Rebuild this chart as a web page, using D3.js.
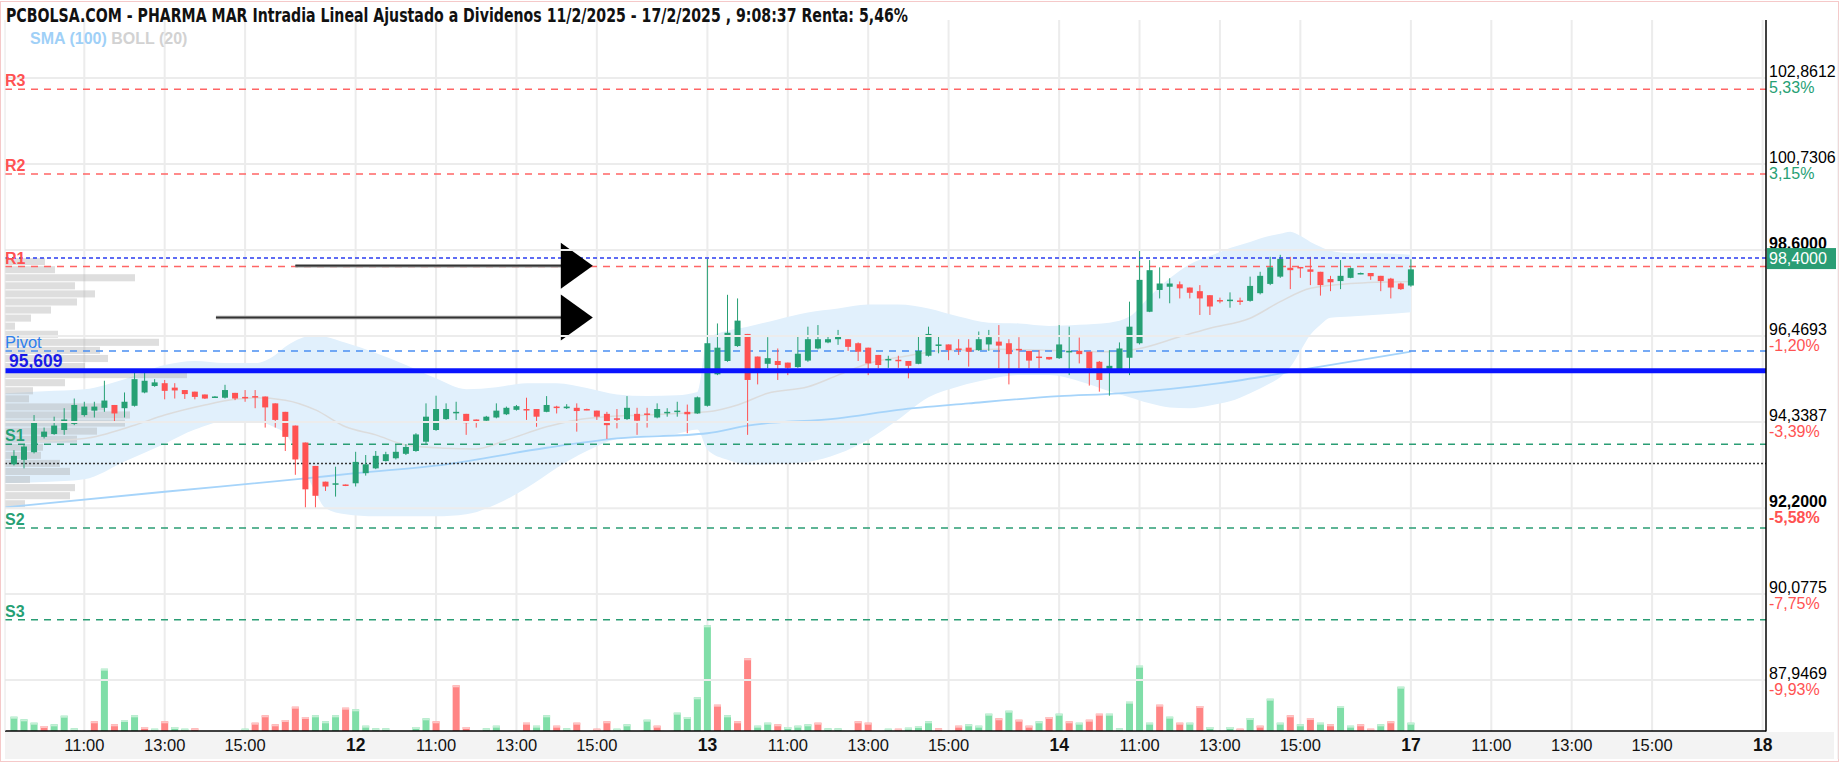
<!DOCTYPE html>
<html>
<head>
<meta charset="utf-8">
<script src="https://cdn.jsdelivr.net/npm/d3@7"></script>
<style>
  body { margin: 0; background: #fff; }
  svg { display: block; font-family: "Liberation Sans", Arial, sans-serif; }
</style>
</head>
<body>
<div id="chart"></div>
<script>
// ---- data (15 min bars, slot = quarter hours since 9:00 of 11/2) ----
var slotsPerDay = 35;
var firstSlot = 1;
var dayLabels = ["11", "12", "13", "14", "17", "18"];
var hourLabels = ["11:00", "13:00", "15:00"];

var opens = [93.29,93.40,93.59,93.97,94.04,94.14,94.29,94.51,94.62,94.69,
  94.76,94.68,94.74,95.07,95.23,95.30,95.19,95.13,95.09,95.02,
  94.96,94.94,95.06,94.96,94.98,94.97,94.80,94.59,94.25,93.83,
  93.25,92.86,92.81,92.79,92.82,93.07,93.19,93.37,93.44,93.55,
  93.62,93.85,94.14,94.41,94.57,94.54,94.40,94.37,94.45,94.53,
  94.64,94.66,94.66,94.59,94.72,94.68,94.69,94.66,94.62,94.54,
  94.43,94.41,94.54,94.55,94.45,94.57,94.60,94.59,94.55,94.74,
  95.52,95.85,96.22,96.52,95.96,95.78,95.85,95.81,95.70,95.86,
  96.16,96.31,96.39,96.39,96.29,96.18,96.00,95.88,95.88,95.85,
  95.78,95.98,96.25,96.26,96.16,96.18,96.12,96.26,96.33,96.29,
  96.15,96.10,95.96,95.95,95.92,96.08,96.10,96.08,95.83,95.59,
  95.59,95.93,96.29,97.07,97.61,97.69,97.75,97.67,97.58,97.48,
  97.36,97.35,97.35,97.34,97.53,97.76,97.94,98.16,98.18,98.12,
  98.06,97.88,97.83,97.91,98.01,98.03,97.96,97.89,97.77,97.72];
var highs = [93.64,93.79,94.51,94.20,94.47,94.68,94.92,94.84,94.84,95.36,
  94.76,95.07,95.59,95.59,95.40,95.38,95.30,95.13,95.09,95.02,
  94.98,95.26,95.06,95.13,95.13,94.97,94.80,94.59,94.25,93.83,
  93.25,92.86,93.23,92.79,93.60,93.52,93.62,93.60,93.79,93.79,
  94.06,94.80,94.99,94.80,94.84,94.54,94.40,94.49,94.80,94.72,
  94.76,94.94,94.66,94.98,94.74,94.78,94.80,94.67,94.62,94.59,
  94.66,94.98,94.69,94.69,94.80,94.68,94.84,94.77,94.97,98.38,
  96.78,97.49,97.40,96.52,95.96,96.44,96.16,95.81,96.49,96.70,
  96.74,96.45,96.62,96.39,96.31,96.18,96.00,95.98,95.98,95.85,
  96.45,96.70,96.49,96.26,96.39,96.39,96.58,96.62,96.74,96.39,
  96.44,96.10,96.12,95.95,96.74,96.70,96.43,96.08,95.85,96.12,
  96.31,97.32,98.60,98.35,98.17,97.90,97.82,97.67,97.73,97.48,
  97.42,97.55,97.42,97.94,98.06,98.43,98.48,98.43,98.18,98.43,
  98.06,97.96,98.35,98.17,98.04,98.03,97.96,97.91,97.79,98.37];
var lows = [93.26,93.19,93.56,93.93,94.02,94.02,94.26,94.47,94.45,94.59,
  94.35,94.45,94.72,95.05,95.21,94.90,94.92,94.91,94.90,94.91,
  94.95,94.92,94.88,94.84,94.68,94.20,94.20,93.62,93.03,92.20,
  92.20,92.63,92.49,92.75,92.74,93.01,93.17,93.36,93.41,93.52,
  93.60,93.77,94.12,94.39,94.39,94.02,94.20,94.35,94.43,94.51,
  94.62,94.39,94.22,94.58,94.55,94.66,94.10,94.63,94.39,93.92,
  94.18,94.39,94.02,94.20,94.43,94.47,94.47,94.06,94.54,94.72,
  95.50,95.83,96.20,94.02,95.27,95.67,95.38,95.50,95.68,95.83,
  96.14,96.29,96.25,96.10,95.85,95.50,95.67,95.68,95.68,95.42,
  95.77,95.96,96.04,95.87,96.00,95.71,96.10,96.10,95.67,95.27,
  95.67,95.67,95.67,95.88,95.90,95.50,95.79,95.24,95.09,94.99,
  95.57,95.50,96.26,97.06,97.40,97.28,97.40,97.40,96.99,96.99,
  97.28,97.17,97.24,97.32,97.50,97.73,97.91,97.63,97.91,97.73,
  97.47,97.58,97.63,97.90,98.00,97.86,97.58,97.40,97.61,97.69];
var closes = [93.50,93.73,94.32,94.10,94.25,94.40,94.76,94.72,94.72,94.87,
  94.55,94.84,95.40,95.36,95.32,95.11,95.12,95.03,94.96,94.92,
  94.97,95.13,94.92,94.95,94.95,94.70,94.39,93.97,93.41,92.67,
  92.51,92.74,92.82,92.76,93.35,93.29,93.50,93.54,93.60,93.72,
  94.03,94.47,94.66,94.66,94.59,94.31,94.33,94.47,94.62,94.69,
  94.73,94.64,94.47,94.76,94.70,94.72,94.61,94.64,94.47,94.26,
  94.41,94.69,94.37,94.54,94.66,94.59,94.62,94.53,94.95,96.29,
  96.18,96.55,96.85,95.38,95.63,95.92,95.75,95.68,96.03,96.39,
  96.39,96.39,96.45,96.20,96.08,95.79,95.75,95.90,95.87,95.73,
  96.10,96.52,96.26,96.12,96.15,96.08,96.39,96.44,96.23,96.02,
  96.13,95.86,95.94,95.89,96.26,96.10,96.02,95.67,95.38,95.73,
  96.16,96.70,97.86,98.10,97.77,97.77,97.65,97.54,97.40,97.20,
  97.35,97.37,97.34,97.71,97.96,98.17,98.38,98.10,98.16,98.06,
  97.73,97.80,97.96,98.15,98.03,97.95,97.83,97.67,97.63,98.12];

// volume per bar, thousands of shares, and whether the bar is drawn green (1) or red (0)
var volumes = [14.3,11.7,8.3,5,6.7,15.3,2.7,0,9.7,62.3,
  6.7,11,15.7,4,2.3,9.7,4,2.3,2.7,0,
  0,0,0,2.3,8.3,15.7,6.7,11,24.3,14,
  15.7,9.7,15.7,23.3,21.7,5.3,2.7,2.7,0,0,
  4,12.7,9.7,0,45.7,4,0,2.7,5.3,0,
  0,8.3,5.3,15.7,5.3,2.7,8.3,0,2.3,9.7,
  2.3,6.7,0,11.3,5.3,0,18.3,14,33.7,105.7,
  26.3,15.7,9.7,72.7,5.3,8.3,6.7,4,5.3,6.7,
  8.3,2.7,2.7,0,9.7,8.3,0,2.3,2.3,3.3,
  5,9.7,2.7,0,5.3,6.7,5.3,17.3,12.7,20.3,
  11.3,5.3,9.7,14,17.3,9.7,8.3,11.3,17.3,17.3,
  2.7,29.3,65.3,8.3,26.3,14.3,8.3,8.3,25,4,
  0,4,2.3,13,5.3,32.3,8.3,15.7,6.7,13,
  8.3,6.7,25,5.3,6.7,2.3,6.7,9.7,44.3,8.3];
var volUp = [1,1,1,0,1,1,1,1,0,1, 0,1,1,0,1,0,1,1,0,1, 1,1,1,1,0,0,0,0,0,0,
  1,1,1,0,1,1,1,1,1,1, 1,1,0,1,0,0,1,1,1,1, 1,0,1,1,0,1,0,1,0,0,
  1,1,1,1,0,1,1,1,1,1, 0,1,0,0,1,1,0,1,1,1, 0,1,1,1,0,0,1,1,0,1,
  1,1,0,1,0,1,1,1,0,1, 0,0,1,0,1,0,1,0,0,1, 1,1,1,1,0,1,0,1,0,1,
  1,1,0,1,0,1,1,0,1,0, 1,0,1,1,0,0,1,0,1,1];

// Bollinger (20) bands and SMA lines, sampled along the slots
var bollSlot = [0,4,8,12,16,19,22,25,27,28,29,30,31,32,34,37,40,43,46,49,52,55,58,61,64,67,69,70,72,74,
  77,80,83,86,89,92,95,98,101,104,107,110,112,114,116,118,120,122,124,126,127,128,129,130,131,132,134,137,140];
var bollUp = [95.05,95.10,95.15,95.40,95.75,95.85,95.80,95.80,96.00,96.20,96.35,96.45,96.48,96.45,96.30,96.05,95.75,95.42,95.15,95.20,
  95.30,95.30,95.18,95.02,94.98,95.00,95.08,96.40,96.60,96.70,96.88,97.05,97.15,97.25,97.25,97.15,96.95,96.80,96.78,96.72,
  96.75,96.80,96.95,97.45,97.90,98.25,98.45,98.65,98.80,98.95,99.00,99.05,98.95,98.80,98.68,98.58,98.52,98.52,98.48];
var bollLow = [92.82,92.85,92.92,93.36,93.80,94.15,94.35,94.35,94.20,94.05,93.65,93.10,92.60,92.20,92.05,92.00,92.00,92.00,92.05,92.30,
  92.70,93.20,93.62,93.92,94.00,94.05,94.15,93.65,93.40,93.28,93.30,93.35,93.55,93.90,94.40,94.95,95.22,95.40,95.50,95.50,
  95.35,95.10,94.95,94.80,94.70,94.68,94.75,94.85,95.05,95.30,95.45,95.70,96.10,96.50,96.75,96.92,96.95,97.00,97.06];
var midSlot = [2,8,13,16,20,23,25,28,31,34,37,40,44,47,50,54,57,60,64,67,70,73,76,80,83,86,90,93,96,99,103,106,110,113,117,120,124,127,130,134,140];
var midVal = [93.85,93.93,94.26,94.51,94.76,94.90,94.94,94.88,94.64,94.22,94.02,93.77,93.69,93.67,93.89,94.22,94.39,94.47,94.51,94.55,
  94.59,94.76,95.05,95.21,95.50,95.79,95.98,96.10,96.12,96.14,96.12,96.10,96.08,96.16,96.45,96.66,96.91,97.32,97.65,97.77,97.82];
var smaSlot = [0,16,30,35,44,54,61,70,74,83,89,96,105,111,121,131,140];
var smaVal = [92.22,92.61,92.94,93.07,93.29,93.70,93.93,94.06,94.25,94.43,94.64,94.80,94.98,95.05,95.30,95.71,96.08];

// volume profile by price (bin lower edge, 0.20 wide)
var profPrice = [98.2,98.0,97.8,97.6,97.4,97.2,97.0,96.8,96.6,96.4,96.2,96.0,95.8,95.6,95.4,95.2,95.0,94.8,94.6,94.4,94.2,94.0,93.8,93.6,93.4,93.2,93.0,92.8,92.6,92.4,92.2];
var profVol = [40,50,130,70,90,72,46,26,10,53,154,95,103,80,182,60,28,24,100,125,120,92,72,38,36,55,65,25,70,65,20];

// pivot levels and marks
var levelNames = ["R3", "R2", "R1", "Pivot", "S1", "S2", "S3"];
var levelVals = [102.58, 100.48, 98.19, 96.10, 93.79, 91.71, 89.44];
var lastPrice = 98.40;
var buyPrice = 93.31;
var markLevel = 95.609;
var arrowPrice = [98.21, 96.93];
var arrowFrom = [29, 21.1];
var arrowTo = 58.6;

// axis ticks
var yTicks = [102.8612, 100.7306, 98.6, 96.4693, 94.3387, 92.2, 90.0775, 87.9469];
var yPct = ["5,33%", "3,15%", "", "-1,20%", "-3,39%", "-5,58%", "-7,75%", "-9,93%"];
var boldTicks = [98.6, 92.2];

// ---- drawing ----
var W = 1844, H = 764;
var pL = 5, pR = 1766, pT = 20, pB = 731;
var green = "#26a074", red = "#ff5252";

var svg = d3.select("#chart").append("svg").attr("width", W).attr("height", H);

var x = d3.scaleLinear().domain([0, 175]).range([3.9, 1762.65]);
var y = d3.scaleLinear().domain([92.2, 98.6]).range([508.3, 250]);
var yVol = d3.scaleLinear().domain([0, 100]).range([pB, pB - 100]);
var xProf = d3.scaleLinear().domain([0, 200]).range([0, 200]);

svg.append("rect").attr("width", W).attr("height", H).attr("fill", "#fff");
svg.append("rect").attr("x", pL).attr("y", pB + 1).attr("width", 1834 - pL).attr("height", 27).attr("fill", "#f3f3f3");

svg.append("defs").append("clipPath").attr("id", "plotclip")
  .append("rect").attr("x", pL).attr("y", pT).attr("width", pR - pL).attr("height", pB - pT);
var plot = svg.append("g").attr("clip-path", "url(#plotclip)");

// x ticks: day start bold, hours in between
var xTicks = [];
dayLabels.forEach(function(d, i) {
  if (i > 0) xTicks.push({s: i * slotsPerDay, t: d, bold: true});
  if (i < dayLabels.length - 1) {
    hourLabels.forEach(function(h) {
      xTicks.push({s: i * slotsPerDay + (parseInt(h) - 9) * 4, t: h, bold: false});
    });
  }
});

// grid
plot.selectAll(".vg").data(xTicks).enter().append("line")
  .attr("x1", function(d) { return x(d.s); }).attr("x2", function(d) { return x(d.s); })
  .attr("y1", pT).attr("y2", pB)
  .attr("stroke", "#ececec").attr("stroke-width", 2);
svg.selectAll(".hg").data(yTicks).enter().append("line")
  .attr("x1", pL).attr("x2", pR)
  .attr("y1", function(d) { return y(d); }).attr("y2", function(d) { return y(d); })
  .attr("stroke", "#ececec").attr("stroke-width", 2);

// bollinger band
var band = bollSlot.map(function(s, i) { return {s: s, u: bollUp[i], l: bollLow[i]}; });
plot.append("path").datum(band)
  .attr("fill", "#e1f0fc")
  .attr("d", d3.area().curve(d3.curveMonotoneX)
    .x(function(d) { return x(d.s); })
    .y0(function(d) { return y(d.l); })
    .y1(function(d) { return y(d.u); }));

// volume profile
plot.selectAll(".prof").data(profPrice).enter().append("rect")
  .attr("x", pL)
  .attr("y", function(d) { return y(d + 0.2); })
  .attr("height", function(d) { return y(d) - y(d + 0.2) - 1; })
  .attr("width", function(d, i) { return xProf(profVol[i]); })
  .attr("fill", "#b0b0b0").attr("opacity", 0.42);

// SMA 20 (middle band) and SMA 100
var line = d3.line().curve(d3.curveMonotoneX)
  .x(function(d) { return x(d[0]); }).y(function(d) { return y(d[1]); });
plot.append("path").datum(midSlot.map(function(s, i) { return [s, midVal[i]]; }))
  .attr("fill", "none").attr("stroke", "#dcdcdc").attr("stroke-width", 1.5).attr("d", line);
plot.append("path").datum(smaSlot.map(function(s, i) { return [s, smaVal[i]]; }))
  .attr("fill", "none").attr("stroke", "#a6d4fa").attr("stroke-width", 1.8).attr("d", line);

// volume bars
var vols = volumes.map(function(v, i) { return {s: firstSlot + i, v: v, up: volUp[i]}; })
  .filter(function(d) { return d.v > 0; });
plot.selectAll(".vol").data(vols).enter().append("rect")
  .attr("x", function(d) { return x(d.s) - 3.5; })
  .attr("width", 7)
  .attr("y", function(d) { return yVol(d.v); })
  .attr("height", function(d) { return pB - yVol(d.v); })
  .attr("fill", function(d) { return d.up ? "#80dea8" : "#ff8585"; });
plot.selectAll(".volcap").data(vols).enter().append("rect")
  .attr("x", function(d) { return x(d.s) - 3.5; })
  .attr("width", 7)
  .attr("y", function(d) { return yVol(d.v); })
  .attr("height", function(d) { return Math.min(2, pB - yVol(d.v)); })
  .attr("fill", function(d) { return d.up ? "#c4f0d6" : "#ffc4c4"; });

// level lines
var levels = levelNames.map(function(n, i) { return {n: n, v: levelVals[i]}; });
function levelColor(n) { return n[0] === "R" ? "#ff6565" : n[0] === "S" ? "#2a9d74" : "#4a8ef2"; }
plot.selectAll(".lvl").data(levels).enter().append("line")
  .attr("x1", pL).attr("x2", pR)
  .attr("y1", function(d) { return y(d.v); }).attr("y2", function(d) { return y(d.v); })
  .attr("stroke", function(d) { return levelColor(d.n); })
  .attr("stroke-width", 1.5).attr("stroke-dasharray", "7,6");
plot.append("line").attr("x1", pL).attr("x2", pR)
  .attr("y1", y(buyPrice)).attr("y2", y(buyPrice))
  .attr("stroke", "#333").attr("stroke-width", 1.5).attr("stroke-dasharray", "2,2");

// candles
var candles = opens.map(function(o, i) {
  return {s: firstSlot + i, o: o, h: highs[i], l: lows[i], c: closes[i]};
});
var cg = plot.selectAll(".candle").data(candles).enter().append("g");
cg.append("line")
  .attr("x1", function(d) { return x(d.s); }).attr("x2", function(d) { return x(d.s); })
  .attr("y1", function(d) { return y(d.h); }).attr("y2", function(d) { return y(d.l); })
  .attr("stroke", function(d) { return d.c >= d.o ? green : red; }).attr("stroke-width", 1);
cg.append("rect")
  .attr("x", function(d) { return x(d.s) - 3; })
  .attr("width", 6)
  .attr("y", function(d) { return y(Math.max(d.o, d.c)); })
  .attr("height", function(d) { return Math.max(1.5, Math.abs(y(d.o) - y(d.c))); })
  .attr("fill", function(d) { return d.c >= d.o ? green : red; });

// last price line and the thick mark line
plot.append("line").attr("x1", pL).attr("x2", pR)
  .attr("y1", y(lastPrice)).attr("y2", y(lastPrice))
  .attr("stroke", "#2b3cf0").attr("stroke-width", 1.5).attr("stroke-dasharray", "4,3");
plot.append("line").attr("x1", pL).attr("x2", pR)
  .attr("y1", y(markLevel)).attr("y2", y(markLevel))
  .attr("stroke", "#0a14ff").attr("stroke-width", 5);

// arrows
arrowPrice.forEach(function(p, i) {
  var yy = y(p), x0 = x(arrowFrom[i]), x1 = x(arrowTo);
  plot.append("line").attr("x1", x0).attr("x2", x1 - 30).attr("y1", yy).attr("y2", yy)
    .attr("stroke", "#9a9a9a").attr("stroke-width", 3.5);
  plot.append("line").attr("x1", x0).attr("x2", x1 - 30).attr("y1", yy).attr("y2", yy)
    .attr("stroke", "#333").attr("stroke-width", 1.5);
  plot.append("path")
    .attr("d", "M" + (x1 - 32) + "," + (yy - 23) + "L" + x1 + "," + yy + "L" + (x1 - 32) + "," + (yy + 23) + "Z")
    .attr("fill", "#000");
});

// level labels on the left
svg.selectAll(".lvlt").data(levels).enter().append("text")
  .attr("x", pL).attr("y", function(d) { return y(d.v) - 3; })
  .attr("font-size", function(d) { return d.n === "Pivot" ? 16.5 : 16; })
  .attr("font-weight", function(d) { return d.n === "Pivot" ? "normal" : "bold"; })
  .attr("fill", function(d) { return d.n[0] === "R" ? "#ff5252" : d.n[0] === "S" ? "#26a074" : "#2f80ed"; })
  .text(function(d) { return d.n; });
svg.append("text").attr("x", 9).attr("y", y(markLevel) - 4)
  .attr("font-size", 17.5).attr("font-weight", "bold").attr("fill", "#1a1ae6")
  .text(String(markLevel).replace(".", ","));

// axes lines
svg.append("line").attr("x1", pR).attr("x2", pR).attr("y1", pT).attr("y2", pB + 0.5)
  .attr("stroke", "#000").attr("stroke-width", 1.5);
svg.append("line").attr("x1", pL).attr("x2", pR).attr("y1", pB).attr("y2", pB)
  .attr("stroke", "#000").attr("stroke-width", 1.5);
svg.append("line").attr("x1", pL).attr("x2", pL).attr("y1", pT).attr("y2", pB)
  .attr("stroke", "#e6e6e6").attr("stroke-width", 1);

// price axis labels
var yl = svg.selectAll(".yl").data(yTicks).enter().append("g");
yl.append("text")
  .attr("x", pR + 3).attr("y", function(d) { return y(d) - 1; })
  .attr("font-size", 16)
  .attr("font-weight", function(d) { return boldTicks.indexOf(d) >= 0 ? "bold" : "normal"; })
  .attr("fill", "#000")
  .text(function(d) { return d.toFixed(4).replace(".", ","); });
yl.append("text")
  .attr("x", pR + 3).attr("y", function(d) { return y(d) + 15; })
  .attr("font-size", 16)
  .attr("font-weight", function(d) { return boldTicks.indexOf(d) >= 0 ? "bold" : "normal"; })
  .attr("fill", function(d, i) { return yPct[i][0] === "-" ? "#ff5252" : "#26a074"; })
  .text(function(d, i) { return yPct[i]; });

// last price box
svg.append("rect").attr("x", pR + 1).attr("y", y(lastPrice) - 10).attr("width", 69).attr("height", 21)
  .attr("fill", "#2a9d74");
svg.append("text").attr("x", pR + 3).attr("y", y(lastPrice) + 6)
  .attr("font-size", 16).attr("fill", "#fff")
  .text(lastPrice.toFixed(4).replace(".", ","));

// time axis labels
svg.selectAll(".xl").data(xTicks).enter().append("text")
  .attr("x", function(d) { return x(d.s); }).attr("y", 751)
  .attr("text-anchor", "middle")
  .attr("font-size", function(d) { return d.bold ? 17.5 : 16.5; })
  .attr("font-weight", function(d) { return d.bold ? "bold" : "normal"; })
  .attr("fill", "#111")
  .text(function(d) { return d.t; });

// title and legend
svg.append("text").attr("x", 6).attr("y", 22)
  .attr("font-family", "'Liberation Sans Narrow', 'DejaVu Sans Condensed', sans-serif")
  .attr("font-size", 19).attr("font-weight", "bold").attr("fill", "#111")
  .attr("textLength", 902).attr("lengthAdjust", "spacingAndGlyphs")
  .text("PCBOLSA.COM - PHARMA MAR Intradia Lineal Ajustado a Dividenos 11/2/2025 - 17/2/2025 , 9:08:37 Renta: 5,46%");
var lg = svg.append("text").attr("x", 30).attr("y", 44).attr("font-size", 16).attr("font-weight", "bold");
lg.append("tspan").attr("fill", "#9fd0f7").text("SMA (100) ");
lg.append("tspan").attr("fill", "#d2d2d2").text("BOLL (20)");

// frame
svg.append("rect").attr("x", 0.5).attr("y", 1.5).attr("width", W - 6).attr("height", H - 4)
  .attr("fill", "none").attr("stroke", "#f5c9c9").attr("stroke-width", 1);
svg.append("line").attr("x1", 1838).attr("x2", 1838).attr("y1", pT).attr("y2", pB + 28)
  .attr("stroke", "#e8e8e8");
</script>
</body>
</html>
